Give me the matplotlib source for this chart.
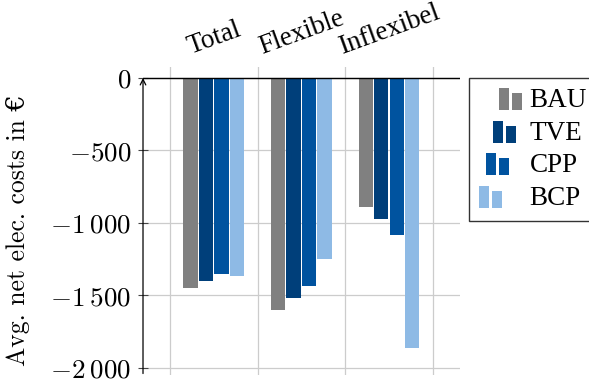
import matplotlib
matplotlib.use('Agg')
import matplotlib.pyplot as plt
from matplotlib.patches import Rectangle
from matplotlib.legend_handler import HandlerBase
from matplotlib.ticker import FuncFormatter

categories = ['Total', 'Flexible', 'Inflexibel']
scenarios = ['BAU', 'TVE', 'CPP', 'BCP']
bau = [-1450, -1602, -893]
tve = [-1400, -1521, -976]
cpp = [-1353, -1436, -1084]
bcp = [-1367, -1252, -1862]
colors = ['#808080', '#003f7a', '#00539f', '#8ebae5']

plt.rcParams['mathtext.fontset'] = 'cm'
serif = ['Liberation Serif', 'DejaVu Serif']
fs = 19.5


class BarPairHandler(HandlerBase):
    # pgfplots style ybar legend image: a tall and a short bar, shifted per entry
    def __init__(self, shift):
        super().__init__()
        self.shift = shift

    def create_artists(self, legend, orig_handle, xdescent, ydescent,
                       width, height, fontsize, trans):
        c = orig_handle.patches[0].get_facecolor()
        px = 0.72
        x0 = -xdescent + self.shift * px
        y0 = -ydescent - 3 * px
        r1 = Rectangle((x0, y0), 10 * px, 22 * px, facecolor=c, edgecolor='none', transform=trans)
        r2 = Rectangle((x0 + 13 * px, y0), 10 * px, 17 * px, facecolor=c, edgecolor='none', transform=trans)
        return [r1, r2]


fig = plt.figure(figsize=(5.89, 3.79), dpi=100)
ax = fig.add_axes([0.2428, 0.0106, 0.538, 0.8127])

x = list(range(len(categories)))
pitch = 0.177
series = [bau, tve, cpp, bcp]
bars = []
for k, (vals, col) in enumerate(zip(series, colors)):
    off = (k - 1.5) * pitch
    b = ax.bar([i + off for i in x], vals, width=0.165, color=col, zorder=2, label=scenarios[k])
    bars.append(b)

ax.set_xlim(-0.81, 2.81)
ax.set_ylim(-2050, 76)

ax.set_xticks([-0.5, 0.5, 1.5, 2.5])
ax.set_xticklabels([])
ax.tick_params(axis='x', length=0)
ax.set_yticks([0, -500, -1000, -1500, -2000])


def fmt(v, pos):
    v = int(round(v))
    s = f'{abs(v):,}'.replace(',', r'\:')
    return f'${"-" if v < 0 else ""}{s}$'


ax.yaxis.set_major_formatter(FuncFormatter(fmt))
ax.tick_params(axis='y', direction='inout', length=7, width=0.8, color='#444444',
               labelsize=fs, pad=5)
ax.grid(True, color='#cccccc', linewidth=0.9, zorder=0)
ax.set_axisbelow(True)

for s in ax.spines.values():
    s.set_visible(False)
ax.axhline(0, color='black', linewidth=1, zorder=3)
ax.annotate('', xy=(-0.81, 0), xytext=(-0.81, -2040), xycoords='data',
            arrowprops=dict(arrowstyle='->', color='black', lw=0.9,
                            shrinkA=0, shrinkB=0), annotation_clip=False, zorder=4)

for i, name in enumerate(categories):
    ax.annotate(name, xy=(i, 1), xycoords=('data', 'axes fraction'),
                xytext=(0, 5), textcoords='offset points', rotation=20,
                ha='center', va='bottom', fontsize=fs, family=serif)

ax.set_ylabel('Avg. net elec. costs in €', fontsize=18.5, family=['cmr10', 'DejaVu Serif'])
ax.yaxis.set_label_coords(-0.357, 0.47)

handlers = {b: BarPairHandler(20 - 6.6 * k) for k, b in enumerate(bars)}
leg = fig.legend(bars, scenarios, loc='upper left',
                 bbox_to_anchor=(469 / 589, 1 - 78 / 379),
                 borderaxespad=0, handler_map=handlers, handlelength=1.6,
                 handletextpad=0.26, labelspacing=0.28, borderpad=0.38,
                 prop={'family': serif, 'size': fs}, fancybox=False,
                 frameon=True, edgecolor='#333333', framealpha=1)
leg.get_frame().set_linewidth(1.0)

fig.savefig('out.png', dpi=100)
